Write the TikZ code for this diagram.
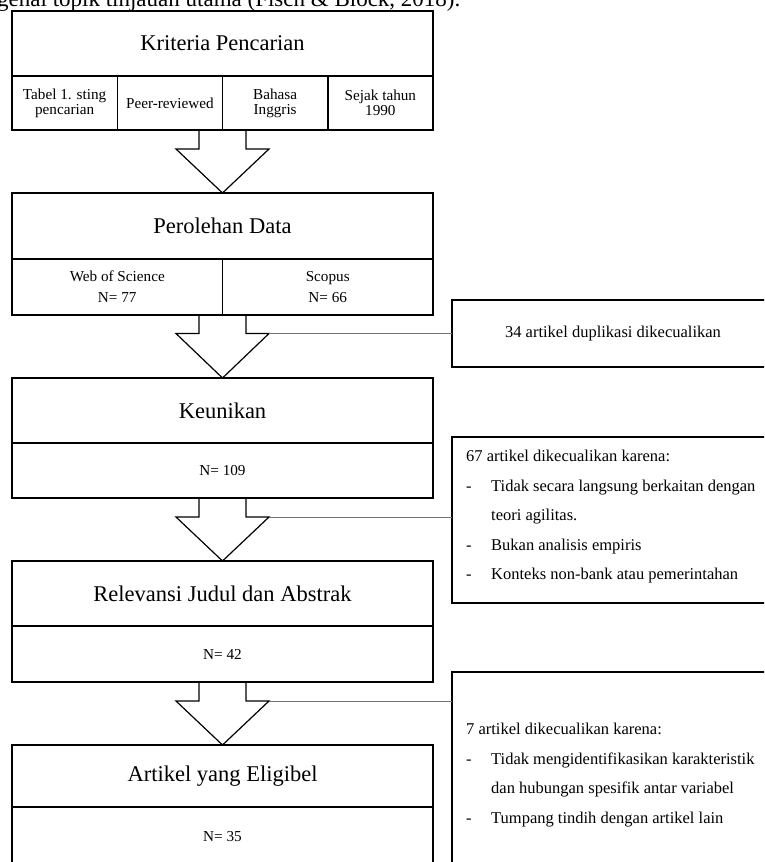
\documentclass[tikz,border=0pt]{standalone}
\usepackage{fontspec}
\setmainfont{Liberation Serif}
\usetikzlibrary{calc}
\begin{document}
\begin{tikzpicture}[x=1pt,y=-1pt,
  cell/.style={draw=black, line width=1.5pt, rectangle, inner sep=0pt, outer sep=0pt, align=center},
  ttl/.style={cell, minimum width=421, font=\fontsize{22.5}{27}\selectfont},
  sml/.style={cell, font=\fontsize{15.2}{15}\selectfont},
  smlwide/.style={cell, font=\fontsize{15.2}{21}\selectfont},
  sidebox/.style={draw=black, line width=1.5pt, rectangle, inner sep=0pt, outer sep=0pt},
  sidetxt/.style={inner sep=0pt, anchor=base west, font=\fontsize{16.5}{20}\selectfont},
  barrow/.style={draw=black, line width=1.2pt, line join=miter},
  conn/.style={draw=black!55, line width=0.9pt}]
\useasboundingbox (0,0) rectangle (764,862);
\clip (0,0) rectangle (764,862);

% cropped caption line at the top
\node[inner sep=0pt, anchor=base west, font=\fontsize{23}{27}\selectfont] (cap) at (-3,6.5)
  {genai topik tinjauan utama (Fisch \& Block, 2018).};

% Box 1
\node[ttl, minimum height=65] (k1) at (222.5,43.5) {Kriteria Pencarian};
\node[sml, minimum width=105.25, minimum height=54] (k1a) at (64.625,103) {Tabel 1. sting\\pencarian};
\node[sml, minimum width=105.25, minimum height=54] (k1b) at (169.875,103) {Peer-reviewed};
\node[sml, minimum width=105.25, minimum height=54] (k1c) at (275.125,103) {Bahasa\\Inggris};
\node[sml, minimum width=105.25, minimum height=54] (k1d) at (380.375,103) {Sejak tahun\\1990};

% Box 2
\node[ttl, minimum height=66] (k2) at (222.5,226) {Perolehan Data};
\node[smlwide, minimum width=210.5, minimum height=56] (k2a) at (117.25,287) {Web of Science\\N= 77};
\node[smlwide, minimum width=210.5, minimum height=56] (k2b) at (327.75,287) {Scopus\\N= 66};

% Box 3
\node[ttl, minimum height=65] (k3) at (222.5,410.5) {Keunikan};
\node[sml, minimum width=421, minimum height=55] (k3s) at (222.5,470.5) {N= 109};

% Box 4
\node[ttl, minimum height=65] (k4) at (222.5,593.5) {Relevansi Judul dan Abstrak};
\node[sml, minimum width=421, minimum height=56] (k4s) at (222.5,654) {N= 42};

% Box 5
\node[ttl, minimum height=62] (k5) at (222.5,776) {Artikel yang Eligibel};
\node[sml, minimum width=421, minimum height=59] (k5s) at (222.5,836.5) {N= 35};

% side boxes
\node[sidebox, minimum width=322, minimum height=67, font=\fontsize{16.5}{20}\selectfont] (s1) at (613,333.5) {34 artikel duplikasi dikecualikan};
\node[sidebox, minimum width=328, minimum height=166] (s2) at (616,520) {};
\node[sidebox, minimum width=328, minimum height=208] (s3) at (616,776) {};

\node[sidetxt] (s2a) at (466,461.5) {67 artikel dikecualikan karena:};
\node[sidetxt] (s2b1) at (466,491) {-};
\node[sidetxt] (s2b) at (491,491) {Tidak secara langsung berkaitan dengan};
\node[sidetxt] (s2c) at (491,520.5) {teori agilitas.};
\node[sidetxt] (s2d1) at (466,550) {-};
\node[sidetxt] (s2d) at (491,550) {Bukan analisis empiris};
\node[sidetxt] (s2e1) at (466,579.5) {-};
\node[sidetxt] (s2e) at (491,579.5) {Konteks non-bank atau pemerintahan};

\node[sidetxt] (s3a) at (466,734.5) {7 artikel dikecualikan karena:};
\node[sidetxt] (s3b1) at (466,764) {-};
\node[sidetxt] (s3b) at (491,764) {Tidak mengidentifikasikan karakteristik};
\node[sidetxt] (s3c) at (491,793.5) {dan hubungan spesifik antar variabel};
\node[sidetxt] (s3d1) at (466,823) {-};
\node[sidetxt] (s3d) at (491,823) {Tumpang tindih dengan artikel lain};

% block arrows
\coordinate (h1) at (222.5,149);
\coordinate (h2) at (222.5,333.5);
\coordinate (h3) at (222.5,517);
\coordinate (h4) at (222.5,701);

\draw[barrow] ($(k1b.south east)+(-23.5,0)$) -- ($(h1)+(-23.5,0)$) -- ($(h1)+(-46.5,0)$) -- (k2.north)
  -- ($(h1)+(46.5,0)$) -- ($(h1)+(23.5,0)$) -- ($(k1b.south east)+(23.5,0)$);
\draw[barrow] ($(k2a.south east)+(-23.5,0)$) -- ($(h2)+(-23.5,0)$) -- ($(h2)+(-46.5,0)$) -- (k3.north)
  -- ($(h2)+(46.5,0)$) -- ($(h2)+(23.5,0)$) -- ($(k2a.south east)+(23.5,0)$);
\draw[barrow] ($(k3s.south)+(-23.5,0)$) -- ($(h3)+(-23.5,0)$) -- ($(h3)+(-46.5,0)$) -- (k4.north)
  -- ($(h3)+(46.5,0)$) -- ($(h3)+(23.5,0)$) -- ($(k3s.south)+(23.5,0)$);
\draw[barrow] ($(k4s.south)+(-23.5,0)$) -- ($(h4)+(-23.5,0)$) -- ($(h4)+(-46.5,0)$) -- (k5.north)
  -- ($(h4)+(46.5,0)$) -- ($(h4)+(23.5,0)$) -- ($(k4s.south)+(23.5,0)$);

% connectors to the side boxes
\draw[conn] ($(h2)+(46.5,0)$) -- (s1.west |- h2);
\draw[conn] ($(h3)+(46.5,0)$) -- (s2.west |- h3);
\draw[conn] ($(h4)+(46.5,0)$) -- (s3.west |- h4);
\end{tikzpicture}
\end{document}
